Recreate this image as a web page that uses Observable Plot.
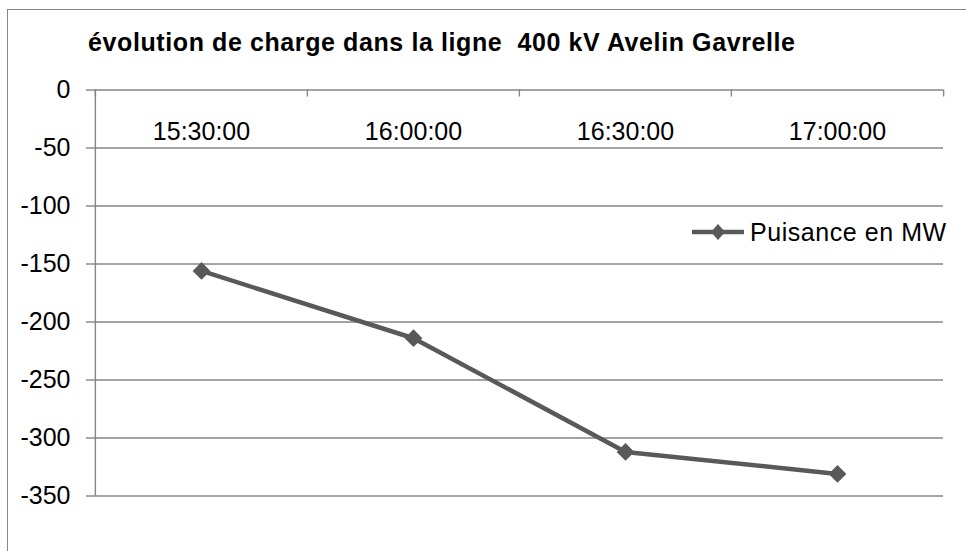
<!DOCTYPE html>
<html>
<head>
<meta charset="utf-8">
<script src="https://cdn.jsdelivr.net/npm/d3@7"></script>
<script src="https://cdn.jsdelivr.net/npm/@observablehq/plot@0.6"></script>
<style>
  html, body { margin: 0; padding: 0; background: #fff; overflow: hidden; }
  body { font-family: "Liberation Sans", Arial, sans-serif; }
  #wrap { position: relative; width: 966px; height: 551px; overflow: hidden; }
  #border { position: absolute; left: 7px; top: 9px; width: 1100px; height: 700px;
            border: 1.5px solid #868686; box-sizing: border-box; }
  #chart { position: absolute; left: 0; top: 0; }
  #title { position: absolute; left: 88px; top: 30px; font-weight: bold; font-size: 25px;
           letter-spacing: 0.6px; line-height: 25px; white-space: pre; color: #000; }
  #legend { position: absolute; left: 691px; top: 218px; display: flex; align-items: center;
            font-size: 25px; letter-spacing: 0.55px; line-height: 28px; white-space: pre; color: #000; }
  #legend svg { margin-right: 5px; }
</style>
</head>
<body>
<div id="wrap">
  <div id="border"></div>
  <div id="chart"></div>
  <div id="title"></div>
  <div id="legend"></div>
</div>
<script>
// ---- data ----
const titleText = "évolution de charge dans la ligne  400 kV Avelin Gavrelle";
const seriesName = "Puisance en MW";
const times = ["15:30:00", "16:00:00", "16:30:00", "17:00:00"];
const values = [-156, -214, -312, -331];
const yTicks = [0, -50, -100, -150, -200, -250, -300, -350];

const data = times.map((t, i) => ({time: t, value: values[i]}));

const W = 966, H = 551;
const mL = 94, mR = 23, mT = 89.5, mB = 55.5;
const step = (W - mL - mR) / times.length;
const frameH = H - mT - mB;
const lineColor = "#595959";
const gridColor = "#868686";

const chart = Plot.plot({
  width: W,
  height: H,
  marginLeft: mL,
  marginRight: mR,
  marginTop: mT,
  marginBottom: mB,
  style: {fontFamily: "'Liberation Sans', Arial, sans-serif", background: "transparent", color: "#000"},
  x: {type: "point", domain: times, padding: 0.5, axis: null},
  y: {domain: [d3.min(yTicks), d3.max(yTicks)], axis: null},
  marks: [
    Plot.gridY(yTicks, {stroke: gridColor, strokeOpacity: 1, strokeWidth: 1.4}),
    Plot.axisY(yTicks, {
      tickSize: 8, tickPadding: 16, stroke: gridColor, strokeWidth: 1.4,
      fontSize: 25, fill: "#000", tickFormat: d => String(d), label: null
    }),
    // vertical axis line on the left edge of the plot
    Plot.ruleX([times[0]], {dx: -step / 2, stroke: gridColor, strokeWidth: 1.4}),
    // category boundary ticks on the top axis
    Plot.ruleX(times, {dx: -step / 2, stroke: gridColor, strokeWidth: 1.4, insetBottom: frameH - 7}),
    Plot.ruleX([times[times.length - 1]], {dx: step / 2, stroke: gridColor, strokeWidth: 1.4, insetBottom: frameH - 7}),
    // category labels under the top axis
    Plot.text(times, {x: d => d, frameAnchor: "top", dy: 32, fontSize: 25, fill: "#000"}),
    Plot.line(data, {x: "time", y: "value", stroke: lineColor, strokeWidth: 4.5}),
    Plot.dot(data, {x: "time", y: "value", symbol: "diamond2", fill: lineColor, stroke: "none", r: 8})
  ]
});
document.getElementById("chart").appendChild(chart);

document.getElementById("title").textContent = titleText;

const legend = document.getElementById("legend");
legend.innerHTML =
  `<svg width="54" height="18" viewBox="0 0 54 18">
     <line x1="1" y1="9" x2="53" y2="9" stroke="${lineColor}" stroke-width="4.5"/>
     <path d="M27,1 L34,9 L27,17 L20,9 Z" fill="${lineColor}"/>
   </svg>`;
const span = document.createElement("span");
span.textContent = seriesName;
legend.appendChild(span);
</script>
</body>
</html>
